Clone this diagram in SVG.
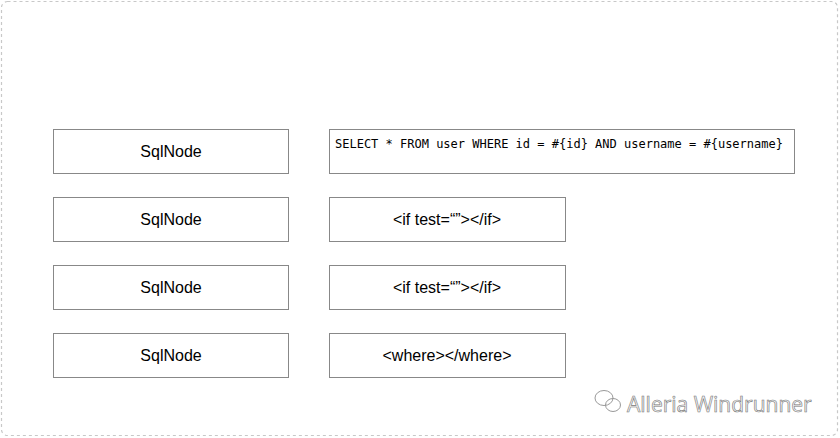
<svg xmlns="http://www.w3.org/2000/svg" width="840" height="438" viewBox="0 0 840 438">
<style>
.box{fill:#fff;stroke:#888;stroke-width:1}
.lbl{font-family:"Liberation Sans",Arial,sans-serif;font-size:16px;fill:#000;text-anchor:middle}
.mono{font-family:"DejaVu Sans Mono",monospace;font-size:12px;fill:#000}
</style>
<rect x="0" y="0" width="840" height="438" fill="#fff"/>
<rect x="1.5" y="1.5" width="836" height="434" rx="6" fill="none" stroke="#c8c8c8" stroke-width="1.2" stroke-dasharray="3,3"/>
<g id="connectors"></g>
<g id="sqlnode1"><rect class="box" x="53.5" y="129.5" width="235" height="44"/><text class="lbl" x="171" y="157">SqlNode</text></g>
<g id="sqlnode2"><rect class="box" x="53.5" y="197.5" width="235" height="44"/><text class="lbl" x="171" y="225">SqlNode</text></g>
<g id="sqlnode3"><rect class="box" x="53.5" y="265.5" width="235" height="44"/><text class="lbl" x="171" y="293">SqlNode</text></g>
<g id="sqlnode4"><rect class="box" x="53.5" y="333.5" width="235" height="44"/><text class="lbl" x="171" y="361">SqlNode</text></g>
<g id="sqltext"><rect class="box" x="329.5" y="129.5" width="465" height="44"/><text class="mono" x="335" y="148">SELECT * FROM user WHERE id = #{id} AND username = #{username}</text></g>
<g id="if1"><rect class="box" x="329.5" y="197.5" width="236" height="44"/><text class="lbl" x="447" y="225">&lt;if test=“”&gt;&lt;/if&gt;</text></g>
<g id="if2"><rect class="box" x="329.5" y="265.5" width="236" height="44"/><text class="lbl" x="447" y="293">&lt;if test=“”&gt;&lt;/if&gt;</text></g>
<g id="where"><rect class="box" x="329.5" y="333.5" width="236" height="44"/><text class="lbl" x="447" y="361">&lt;where&gt;&lt;/where&gt;</text></g>
<g id="watermark">
<g fill="none" stroke="#999" stroke-width="1">
<ellipse cx="604" cy="398" rx="9" ry="7.5"/>
<ellipse cx="613" cy="405" rx="7.5" ry="6.5"/>
</g>
<text x="627" y="412" font-family="'Open Sans',sans-serif" font-size="21" fill="#f4f4f4" stroke="#777" stroke-width="0.6">Alleria Windrunner</text>
</g>
</svg>
